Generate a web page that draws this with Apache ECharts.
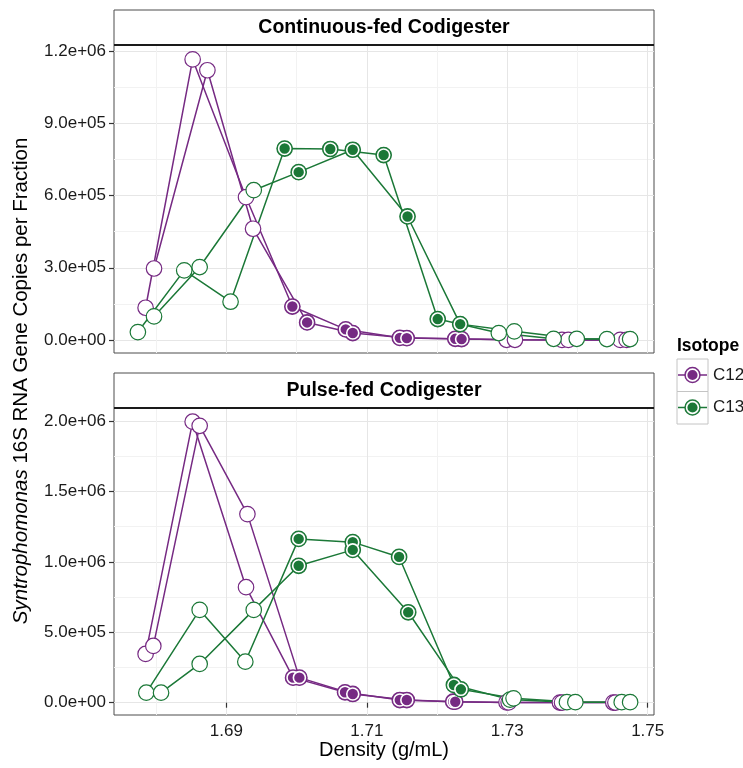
<!DOCTYPE html>
<html>
<head>
<meta charset="utf-8">
<title>Syntrophomonas 16S RNA gene copies across density gradients</title>
<script src="https://cdn.jsdelivr.net/npm/echarts@6.0.0/dist/echarts.min.js"></script>
<style>
  html, body { margin: 0; padding: 0; background: #fff; }
  #chart { width: 743px; height: 768px; }
</style>
</head>
<body>
<div id="chart"></div>
<script>
var FONT = 'Liberation Sans, Arial, Helvetica, sans-serif'

var panelTitles = ['Continuous-fed Codigester', 'Pulse-fed Codigester']
var isotopes = ['C12', 'C13']
var isoColors = { C12: '#762a83', C13: '#1b7837' }

// fractions inside this density window are drawn filled (heavy fractions)
var filledWindow = [1.696, 1.726]

// ---- Continuous-fed codigester, two replicate gradients per isotope
var contC12aDensity = [1.6785, 1.6852, 1.6928, 1.6994, 1.7070, 1.7147, 1.7226, 1.7299, 1.7378, 1.7461]
var contC12aCopies  = [134000, 1165000, 593000, 139000, 44000, 9000, 5000, 1000, 500, 500]
var contC12bDensity = [1.6797, 1.6873, 1.6938, 1.7015, 1.7080, 1.7157, 1.7235, 1.7311, 1.7387, 1.7470]
var contC12bCopies  = [297000, 1120000, 462000, 73000, 29000, 8000, 4000, 1000, 500, 500]
var contC13aDensity = [1.6774, 1.6840, 1.6906, 1.6983, 1.7048, 1.7124, 1.7201, 1.7288, 1.7366, 1.7442]
var contC13aCopies  = [33000, 289000, 159000, 795000, 793000, 768000, 87000, 29000, 5000, 4000]
var contC13bDensity = [1.6797, 1.6862, 1.6939, 1.7003, 1.7080, 1.7158, 1.7233, 1.7310, 1.7399, 1.7475]
var contC13bCopies  = [98000, 303000, 622000, 697000, 790000, 513000, 66000, 36000, 5000, 4000]

// ---- Pulse-fed codigester
var pulseC12aDensity = [1.6785, 1.6852, 1.6928, 1.6995, 1.7069, 1.7147, 1.7223, 1.7299, 1.7375, 1.7451]
var pulseC12aCopies  = [346000, 1995000, 820000, 178000, 74000, 19000, 7000, 2000, 1000, 1000]
var pulseC12bDensity = [1.6796, 1.6862, 1.6930, 1.7004, 1.7080, 1.7157, 1.7226, 1.7302, 1.7378, 1.7454]
var pulseC12bCopies  = [403000, 1966000, 1339000, 178000, 62000, 19000, 7000, 2000, 1000, 1000]
var pulseC13aDensity = [1.6786, 1.6862, 1.6927, 1.7003, 1.7080, 1.7146, 1.7224, 1.7304, 1.7385, 1.7463]
var pulseC13aCopies  = [71000, 659000, 291000, 1163000, 1140000, 1035000, 126000, 22000, 4000, 4000]
var pulseC13bDensity = [1.6807, 1.6862, 1.6939, 1.7003, 1.7080, 1.7159, 1.7234, 1.7309, 1.7397, 1.7475]
var pulseC13bCopies  = [71000, 275000, 659000, 972000, 1085000, 642000, 95000, 31000, 4000, 4000]

// axis ticks and labels
var densityTicks = [1.69, 1.71, 1.73, 1.75]
var densityTickLabels = ['1.69', '1.71', '1.73', '1.75']
var densityMinor = [1.68, 1.70, 1.72, 1.74]
var contTicks = [0, 300000, 600000, 900000, 1200000]
var contTickLabels = ['0.0e+00', '3.0e+05', '6.0e+05', '9.0e+05', '1.2e+06']
var contMinor = [150000, 450000, 750000, 1050000]
var pulseTicks = [0, 500000, 1000000, 1500000, 2000000]
var pulseTickLabels = ['0.0e+00', '5.0e+05', '1.0e+06', '1.5e+06', '2.0e+06']
var pulseMinor = [250000, 750000, 1250000, 1750000]

var reps = [
  { panel: 0, iso: 'C12', dens: contC12aDensity, copies: contC12aCopies },
  { panel: 0, iso: 'C12', dens: contC12bDensity, copies: contC12bCopies },
  { panel: 0, iso: 'C13', dens: contC13aDensity, copies: contC13aCopies },
  { panel: 0, iso: 'C13', dens: contC13bDensity, copies: contC13bCopies },
  { panel: 1, iso: 'C12', dens: pulseC12aDensity, copies: pulseC12aCopies },
  { panel: 1, iso: 'C12', dens: pulseC12bDensity, copies: pulseC12bCopies },
  { panel: 1, iso: 'C13', dens: pulseC13aDensity, copies: pulseC13aCopies },
  { panel: 1, iso: 'C13', dens: pulseC13bDensity, copies: pulseC13bCopies }
]

var grids = [
  { left: 114, top: 45, width: 540, height: 308 },
  { left: 114, top: 408, width: 540, height: 307 }
]
var xRange = [1.6740, 1.7509]
var yRanges = [[-53900, 1224900], [-87300, 2092300]]

function isFilled(d) {
  return d >= filledWindow[0] && d <= filledWindow[1]
}

function pairs(r) {
  return r.dens.map(function (d, i) { return [d, r.copies[i]] })
}

var chart = echarts.init(document.getElementById('chart'), null, { renderer: 'canvas' })

var series = []
// lines first, like geom_line under geom_point
reps.forEach(function (r) {
  series.push({
    type: 'line',
    xAxisIndex: r.panel,
    yAxisIndex: r.panel,
    data: pairs(r),
    symbol: 'none',
    silent: true,
    z: 2,
    lineStyle: { color: isoColors[r.iso], width: 1.5 }
  })
})

;[0, 1].forEach(function (p) {
  isotopes.forEach(function (iso) {
    var c = isoColors[iso]
    var pts = []
    reps.forEach(function (r) {
      if (r.panel === p && r.iso === iso) pts = pts.concat(pairs(r))
    })
    series.push({
      type: 'scatter',
      xAxisIndex: p,
      yAxisIndex: p,
      silent: true,
      z: 3,
      symbolSize: 15.5,
      itemStyle: { borderColor: c, borderWidth: 1.2, opacity: 1 },
      data: pts.map(function (pt) {
        return { value: pt, itemStyle: { color: isFilled(pt[0]) ? c : '#ffffff' } }
      })
    })
    series.push({
      type: 'scatter',
      xAxisIndex: p,
      yAxisIndex: p,
      silent: true,
      z: 3,
      symbolSize: 12,
      itemStyle: { color: c, borderColor: '#ffffff', borderWidth: 1.6, opacity: 1 },
      data: pts.filter(function (pt) { return isFilled(pt[0]) })
    })
  })
})

function lookupLabel(ticks, labels) {
  return function (v) {
    for (var i = 0; i < ticks.length; i++) {
      if (Math.abs(ticks[i] - v) < 1e-9 * Math.max(1, Math.abs(v))) return labels[i]
    }
    return ''
  }
}

function gridLineAxis(gridIndex, range, values, color) {
  return {
    type: 'value',
    gridIndex: gridIndex,
    min: range[0],
    max: range[1],
    axisLine: { show: false },
    axisTick: { show: false, customValues: values },
    axisLabel: { show: false },
    splitLine: { show: true, lineStyle: { color: color, width: 1 } }
  }
}

var xAxes = [
  {
    type: 'value', gridIndex: 0, min: xRange[0], max: xRange[1],
    axisLine: { show: false },
    axisTick: { show: false, customValues: densityTicks },
    axisLabel: { show: false, customValues: densityTicks },
    splitLine: { show: true, lineStyle: { color: '#e6e6e6', width: 1 } }
  },
  {
    type: 'value', gridIndex: 1, min: xRange[0], max: xRange[1],
    name: 'Density (g/mL)',
    nameLocation: 'middle',
    nameGap: 21,
    nameTextStyle: { fontFamily: FONT, fontSize: 20, color: '#000' },
    axisLine: { show: false },
    axisTick: { show: true, length: 5, customValues: densityTicks, lineStyle: { color: '#333', width: 1.2 } },
    axisLabel: {
      customValues: densityTicks, margin: 8, fontFamily: FONT, fontSize: 17, color: '#1a1a1a',
      formatter: lookupLabel(densityTicks, densityTickLabels)
    },
    splitLine: { show: true, lineStyle: { color: '#e6e6e6', width: 1 } }
  },
  gridLineAxis(0, xRange, densityMinor, '#f2f2f2'),
  gridLineAxis(1, xRange, densityMinor, '#f2f2f2')
]

function yMajor(gridIndex, ticks, labels) {
  return {
    type: 'value', gridIndex: gridIndex,
    min: yRanges[gridIndex][0], max: yRanges[gridIndex][1],
    axisLine: { show: false },
    axisTick: { show: true, length: 5, customValues: ticks, lineStyle: { color: '#333', width: 1.2 } },
    axisLabel: {
      customValues: ticks, margin: 8, fontFamily: FONT, fontSize: 17, color: '#1a1a1a',
      formatter: lookupLabel(ticks, labels)
    },
    splitLine: { show: true, lineStyle: { color: '#e6e6e6', width: 1 } }
  }
}

var yAxes = [
  yMajor(0, contTicks, contTickLabels),
  yMajor(1, pulseTicks, pulseTickLabels),
  gridLineAxis(0, yRanges[0], contMinor, '#f2f2f2'),
  gridLineAxis(1, yRanges[1], pulseMinor, '#f2f2f2')
]

// facet strips, y-axis title and the isotope key
var graphics = []
grids.forEach(function (g, i) {
  var top = g.top - 35
  graphics.push({
    type: 'rect', z: 10,
    shape: { x: g.left, y: top, width: g.width, height: 35 },
    style: { fill: '#fff', stroke: '#4d4d4d', lineWidth: 1 }
  })
  graphics.push({
    type: 'line', z: 11,
    shape: { x1: g.left, y1: g.top, x2: g.left + g.width, y2: g.top },
    style: { stroke: '#1a1a1a', lineWidth: 2 }
  })
  graphics.push({
    type: 'text', z: 12,
    x: g.left + g.width / 2, y: top + 17.5,
    style: {
      text: panelTitles[i], fontFamily: FONT, fontSize: 19.5, fontWeight: 'bold', fill: '#000',
      textAlign: 'center', align: 'center', textVerticalAlign: 'middle', verticalAlign: 'middle'
    }
  })
})

graphics.push({
  type: 'text', z: 12,
  x: 21, y: 381, rotation: Math.PI / 2,
  style: {
    text: '{i|Syntrophomonas} 16S RNA Gene Copies per Fraction',
    rich: { i: { fontStyle: 'italic', fontFamily: FONT, fontSize: 20.5, fill: '#000', color: '#000' } },
    fontFamily: FONT, fontSize: 20.5, fill: '#000',
    textAlign: 'center', align: 'center', textVerticalAlign: 'middle', verticalAlign: 'middle'
  }
})

graphics.push({
  type: 'text', z: 12, x: 677, y: 346,
  style: {
    text: 'Isotope', fontFamily: FONT, fontSize: 17.5, fontWeight: 'bold', fill: '#000',
    textAlign: 'left', align: 'left', textVerticalAlign: 'middle', verticalAlign: 'middle'
  }
})
isotopes.forEach(function (iso, i) {
  var by = 359 + i * 32.5
  var cy = by + 16
  var c = isoColors[iso]
  graphics.push({ type: 'rect', z: 10, shape: { x: 677, y: by, width: 31, height: 32.5 }, style: { fill: '#fff', stroke: '#c4c4c4', lineWidth: 1 } })
  graphics.push({ type: 'line', z: 11, shape: { x1: 678, y1: cy, x2: 707, y2: cy }, style: { stroke: c, lineWidth: 1.5 } })
  graphics.push({ type: 'circle', z: 12, shape: { cx: 692.5, cy: cy, r: 7.6 }, style: { fill: c, stroke: c, lineWidth: 1.2 } })
  graphics.push({ type: 'circle', z: 13, shape: { cx: 692.5, cy: cy, r: 5.9 }, style: { fill: c, stroke: '#fff', lineWidth: 1.6 } })
  graphics.push({
    type: 'text', z: 12, x: 713, y: cy,
    style: {
      text: iso, fontFamily: FONT, fontSize: 17, fill: '#1a1a1a',
      textAlign: 'left', align: 'left', textVerticalAlign: 'middle', verticalAlign: 'middle'
    }
  })
})

chart.setOption({
  animation: false,
  backgroundColor: '#fff',
  grid: grids.map(function (g) {
    return {
      left: g.left, top: g.top, width: g.width, height: g.height,
      show: true, borderColor: '#4d4d4d', borderWidth: 1, backgroundColor: 'transparent'
    }
  }),
  xAxis: xAxes,
  yAxis: yAxes,
  graphic: graphics,
  series: series
})
</script>
</body>
</html>
